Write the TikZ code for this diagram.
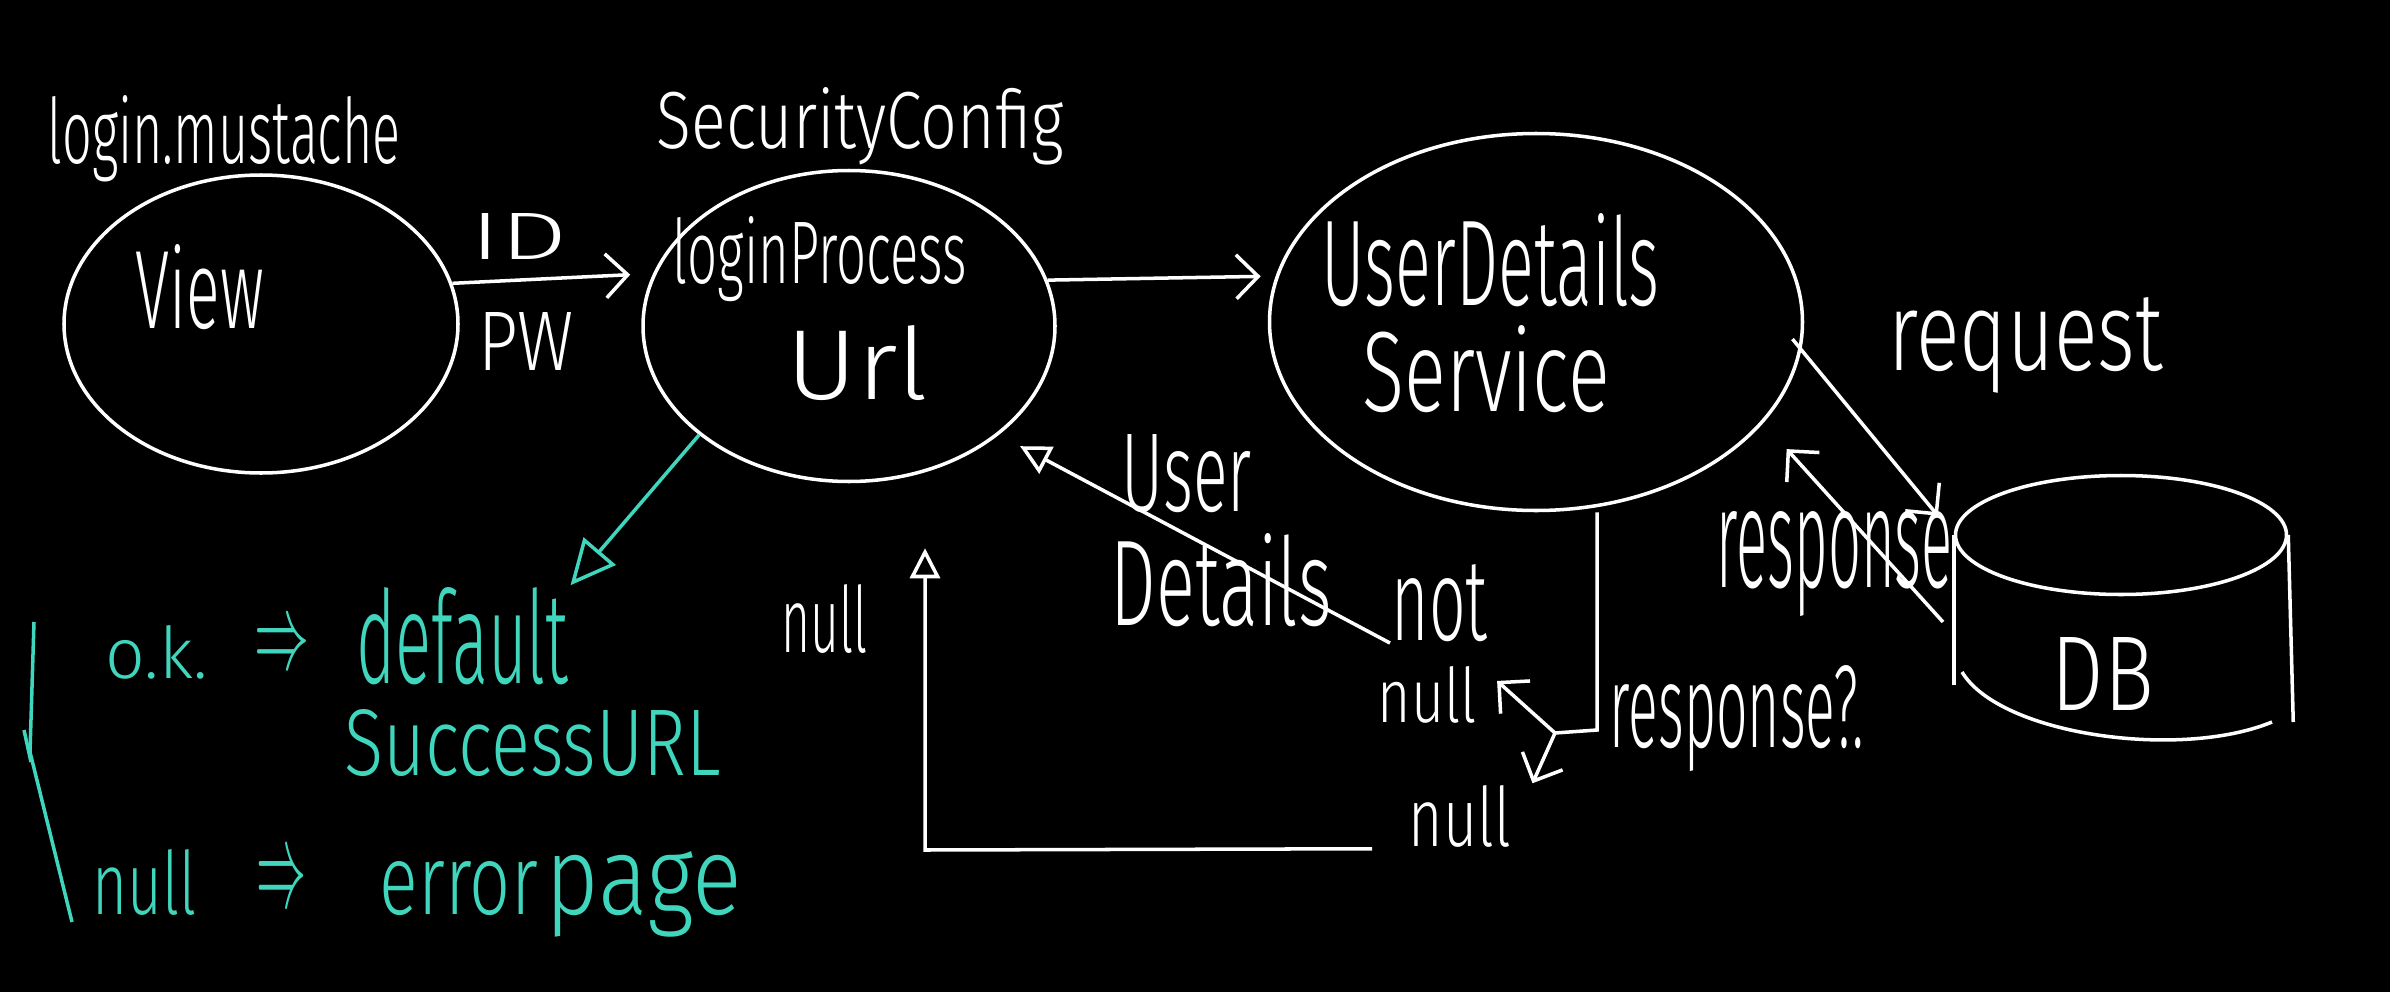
\documentclass[tikz,border=0pt]{standalone}
\usepackage{fontspec}
\newfontfamily\hand{Fira Sans Light}
\usetikzlibrary{shapes.geometric,arrows.meta}
\definecolor{teal1}{RGB}{64,214,190}
\newcommand\hw[3]{\resizebox{#1}{#2}{#3}}
\begin{document}
\begin{tikzpicture}[x=0.1mm, y=-0.1mm, line width=1pt, draw=white,
  txt/.style={inner sep=0, anchor=base west, text=white, font=\hand},
  ttxt/.style={txt, text=teal1},
  ell/.style={ellipse, draw=white, inner sep=0},
  barb/.style={-{Straight Barb[length=2.2mm,width=4.4mm]}},
  tri/.style={-{Triangle[open,length=3mm,width=3mm]}},
  bigtri/.style={-{Triangle[open,length=4.5mm,width=4.2mm]}}]
\fill[black] (0,0) rectangle (2390,992);
\useasboundingbox (0,0) rectangle (2390,992);

% ellipses
\node[ell, minimum width=39.4mm, minimum height=29.8mm] (view) at (261,324) {};
\node[ell, minimum width=41.2mm, minimum height=31.1mm] (lp) at (849,326) {};
\node[ell, minimum width=53.3mm, minimum height=37.7mm] (uds) at (1536,322) {};
\node[ell, minimum width=33.1mm, minimum height=11.9mm] (dbtop) at (2121,535) {};

% DB cylinder body
\draw (dbtop.west) -- ++(0,150);
\draw (dbtop.east) -- ++(5,187);
\draw (1962,672) .. controls (2000,735) and (2180,760) .. (2272,722);

% white texts
\node[txt] (mustache) at (46,163) {\hw{35.3mm}{6.8mm}{login.mustache}};
\node[txt] (secconf) at (655,148) {\hw{40.7mm}{6.1mm}{SecurityConfig}};
\node[txt] (viewt) at (134,328) {\hw{12.8mm}{8.4mm}{View}};
\node[txt] (id) at (469,259) {\hw{9.7mm}{4.6mm}{ID}};
\node[txt] (pw) at (477,370) {\hw{9.5mm}{5.8mm}{PW}};
\node[txt] (lpt) at (671,283) {\hw{29.4mm}{6.7mm}{loginProcess}};
\node[txt] (url) at (785,399) {\hw{14.2mm}{7.4mm}{Url}};
\node[txt] (udt) at (1320,305) {\hw{33.8mm}{9.2mm}{UserDetails}};
\node[txt] (svc) at (1361,411) {\hw{24.7mm}{8.6mm}{Service}};
\node[txt] (req) at (1887,370) {\hw{27.4mm}{7.3mm}{request}};
\node[txt] (resp) at (1715,587) {\hw{23.6mm}{7.6mm}{response}};
\node[txt] (dbt) at (2050,710) {\hw{10.2mm}{7.3mm}{DB}};
\node[txt] (respq) at (1608,747) {\hw{25.4mm}{8.2mm}{response?.}};
\node[txt] (usr) at (1120,511) {\hw{13mm}{7.7mm}{User}};
\node[txt] (det) at (1109,625) {\hw{22.1mm}{9.2mm}{Details}};
\node[txt] (notn) at (1390,640) {\hw{9.6mm}{7.6mm}{not}};
\node[txt] (nnull) at (1376,722) {\hw{9.9mm}{5.6mm}{null}};
\node[txt] (bnull) at (1407,846) {\hw{10.2mm}{6.1mm}{null}};
\node[txt] (lnull) at (780,652) {\hw{8.6mm}{6.8mm}{null}};

% teal texts
\node[ttxt] (ok) at (104,678) {\hw{10.2mm}{5.3mm}{o.k.}};
\node[ttxt, anchor=center] (imp1) at (282,648) {\hw{5.5mm}{4mm}{$\Rightarrow$}};
\node[ttxt] (default) at (355,683) {\hw{21.2mm}{9.6mm}{default}};
\node[ttxt] (surl) at (343,775) {\hw{37.6mm}{6.6mm}{SuccessURL}};
\node[ttxt] (tnull) at (91,914) {\hw{10.4mm}{6.5mm}{null}};
\node[ttxt, anchor=center] (imp2) at (281,884) {\hw{5mm}{4.5mm}{$\Rightarrow$}};
\node[ttxt] (err) at (378,914) {\hw{15.8mm}{5.3mm}{error}};
\node[ttxt] (page) at (544,914) {\hw{19.6mm}{6.3mm}{page}};

% coordinates
\coordinate (junc) at (1597,730);
\coordinate (jl) at (1555,733);
\coordinate (respS) at (1943,622);
\coordinate (lc) at (925,850);
\coordinate (br1) at (34,622);
\coordinate (br2) at (30,752);
\coordinate (br3) at (72,922);

% connectors
\draw[barb, shorten >=2.3mm] (view.12) -- (lp.165);
\draw[barb, shorten >=1.5mm] (lp.13) -- (uds.170);
\draw[barb, shorten <=-1.4mm, shorten >=2.5mm] (uds.-6) -- (dbtop.west);
\draw[barb, shorten >=3.5mm] (respS) -- (uds.-24);
\draw (uds.south -| junc) -- (junc) -- (jl);
\draw[barb, shorten >=2.5mm] (jl) -- (nnull.north east);
\draw[barb] (jl) -- ([xshift=2mm]bnull.north east);
\draw[tri, shorten >=2.4mm] (notn.south west) -- (lp.-36);
\draw[tri, shorten <=3.5mm, shorten >=6.5mm] (bnull.south west) -- (lc) -- (lp.south -| lc);
\draw[teal1, bigtri] (lp.216) -- (default.north east);
\draw[teal1] (br1) -- (br2) -- (br3);
\draw[teal1] (24,730) -- (31,762);
\end{tikzpicture}
\end{document}
